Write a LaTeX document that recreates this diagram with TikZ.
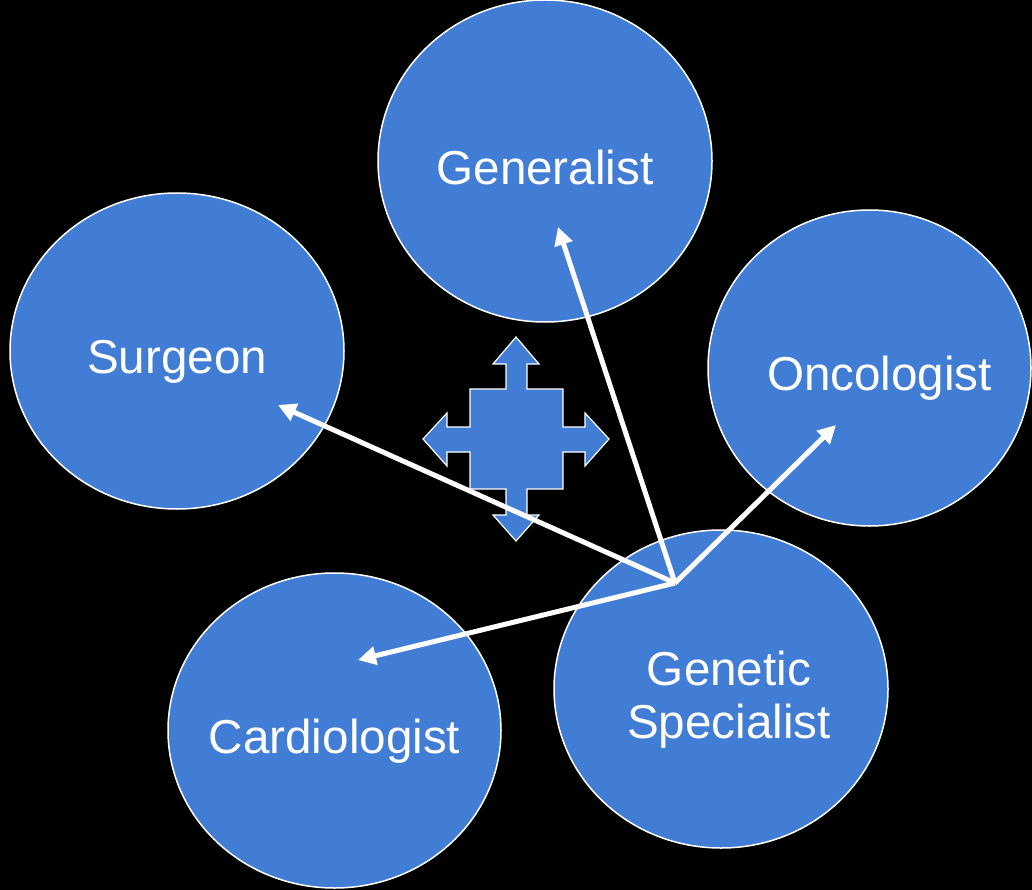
\documentclass[tikz,border=0pt]{standalone}
\usepackage{fontspec}
\setmainfont{Liberation Sans}
\usetikzlibrary{shapes.geometric,arrows.meta}

\definecolor{teamblue}{RGB}{65,125,213}

\tikzset{
  member/.style={ellipse, draw=white, line width=1.5pt, fill=teamblue,
    inner sep=0pt, outer sep=0pt},
  tag/.style={text=white, align=center, anchor=base, inner sep=0pt,
    font=\fontsize{47.6}{53}\selectfont},
  link/.style={draw=white, line width=5pt,
    -{Triangle[length=18pt,width=18pt]}},
}

\begin{document}
\begin{tikzpicture}[x=1pt,y=-1pt]
  \fill[black] (0,0) rectangle (1032,890);
  \useasboundingbox (0,0) rectangle (1032,890);

  % the team
  \node[member, minimum width=334pt, minimum height=322pt] (gen) at (545,161) {};
  \node[member, minimum width=334pt, minimum height=316pt] (surg) at (177,351) {};
  \node[member, minimum width=323pt, minimum height=316pt] (onc) at (869.5,368) {};
  \node[member, minimum width=333pt, minimum height=315pt] (card) at (334.5,730.5) {};
  \node[member, minimum width=334pt, minimum height=318pt] (genet) at (721,689) {};

  \node[tag] (gen-name) at ([yshift=-24pt]gen.center) {Generalist};
  \node[tag] (surg-name) at ([yshift=-22pt]surg.center) {Surgeon};
  \node[tag] (onc-name) at ([xshift=10pt,yshift=-22pt]onc.center) {Oncologist};
  \node[tag] (card-name) at ([yshift=-22.5pt]card.center) {Cardiologist};
  \node[tag] (genet-name) at ([xshift=8pt,yshift=-49pt]genet.center) {Genetic\\Specialist};

  % four way arrow in the middle
  \draw[fill=teamblue, draw=white, line width=1.2pt, line join=miter]
    (516,337) -- (539,364) -- (527,364) -- (527,389) -- (563,389) -- (563,427)
    -- (585,427) -- (585,413) -- (609,439) -- (585,466) -- (585,452) -- (563,452)
    -- (563,489) -- (527,489) -- (527,515) -- (539,515) -- (516,541) -- (493,515)
    -- (506,515) -- (506,489) -- (470,489) -- (470,452) -- (447,452) -- (447,466)
    -- (423,439) -- (447,413) -- (447,427) -- (470,427) -- (470,389) -- (506,389)
    -- (506,364) -- (493,364) -- cycle;

  % arrows out of the genetic specialist
  \coordinate (hub) at (675,583);
  \coordinate (gen-tip) at (558,227);
  \coordinate (surg-tip) at (278,405);
  \coordinate (card-tip) at (358,660);
  \coordinate (onc-tip) at (836,425);
  \draw[link] (hub) -- (gen-tip);
  \draw[link] (hub) -- (surg-tip);
  \draw[link] (hub) -- (card-tip);
  \draw[link] (hub) -- (onc-tip);
\end{tikzpicture}
\end{document}
